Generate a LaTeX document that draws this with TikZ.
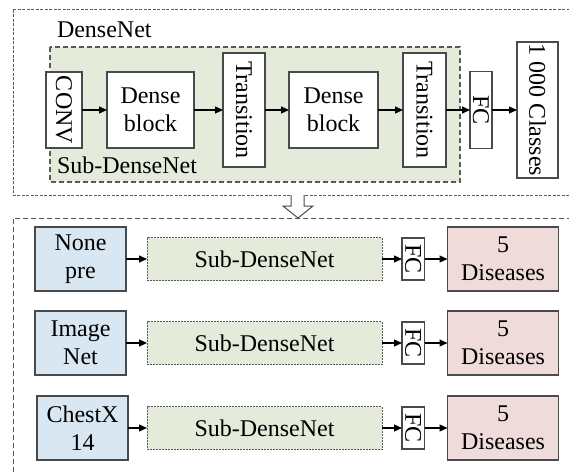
\documentclass[tikz,border=0pt]{standalone}
\usepackage{fontspec}
\setmainfont{Liberation Serif}
\usetikzlibrary{arrows.meta}
\definecolor{edge}{HTML}{4A4A4A}
\definecolor{dashgray}{HTML}{5A5A5A}
\definecolor{subfill}{HTML}{E5EBDA}
\definecolor{prefill}{HTML}{D8E7F1}
\definecolor{outfill}{HTML}{F0DBDB}
\begin{document}
\begin{tikzpicture}[x=1pt,y=-1pt,
  every node/.style={font=\fontsize{24}{28}\selectfont, inner sep=0pt, outer sep=0pt, align=center},
  block/.style 2 args={draw=edge, line width=1.3pt, fill=white, minimum width=#1, minimum height=#2},
  subbox/.style={draw=dashgray, line width=1pt, dash pattern=on 2pt off 1pt, fill=subfill,
                 minimum width=235, minimum height=43},
  arr/.style={-{Triangle[length=8pt,width=7pt]}, line width=1.1pt},
  frame/.style={draw=dashgray, line width=1pt}]

% page
\useasboundingbox[fill=white] (0,0) rectangle (569,473);

% upper frame: the original DenseNet
\draw[frame, dash pattern=on 3pt off 1.5pt] (13,10) -- (13,195) -- (580,195);
\draw[frame, dash pattern=on 3pt off 1.5pt] (13,10) -- (580,10);
\node[anchor=base west] (title) at (57,38) {DenseNet};

% part that is reused below
\draw[draw=dashgray, line width=1.5pt, dash pattern=on 5pt off 3pt, fill=subfill]
  (50,47) rectangle (460,182);
\node[anchor=base west] (sublabel) at (57,173) {Sub-DenseNet};

\node[block={36}{76}]  (conv) at (64,110)    {\rotatebox{-90}{CONV}};
\node[block={87}{76}]  (db1)  at (150.5,110) {Dense\\block};
\node[block={42}{114}] (tr1)  at (244,110)   {\rotatebox{-90}{Transition}};
\node[block={89}{76}]  (db2)  at (333.5,110) {Dense\\block};
\node[block={43}{114}] (tr2)  at (424.5,110) {\rotatebox{-90}{Transition}};
\node[block={22}{77}]  (fc0)  at (481,110)   {\rotatebox{-90}{FC}};
\node[block={41}{136}] (cls)  at (537.5,110) {\rotatebox{-90}{1 000 Classes}};

\draw[arr] (conv.east) -- (db1.west);
\draw[arr] (db1.east)  -- (tr1.west);
\draw[arr] (tr1.east)  -- (db2.west);
\draw[arr] (db2.east)  -- (tr2.west);
\draw[arr] (tr2.east)  -- (fc0.west);
\draw[arr] (fc0.east)  -- (cls.west);

% lower frame: transfer settings
\draw[frame, dash pattern=on 5pt off 3pt] (580,218) -- (13,218) -- (13,480);

% hollow arrow between the frames
\filldraw[draw=edge, fill=white, line width=1pt]
  (291,195) -- (291,206) -- (283,206) -- (298,218) -- (313,206) -- (304,206) -- (304,195);

% three pre-training variants
\foreach \i/\y/\px/\txt in {1/259/80.5/None\\pre, 2/343/80.5/Image\\Net, 3/428/82.5/ChestX\\14} {
  \node[block={91}{64}, fill=prefill] (pre\i) at (\px,\y) {\txt};
  \node[subbox] (sub\i) at (264.5,\y) {Sub-DenseNet};
  \node[block={22.5}{42}] (fc\i) at (413.25,\y) {\rotatebox{-90}{FC}};
  \node[block={111}{64}, fill=outfill] (out\i) at (503,\y) {5\\Diseases};
  \draw[arr] (pre\i.east) -- (sub\i.west);
  \draw[arr] (sub\i.east) -- (fc\i.west);
  \draw[arr] (fc\i.east)  -- (out\i.west);
}
\end{tikzpicture}
\end{document}
